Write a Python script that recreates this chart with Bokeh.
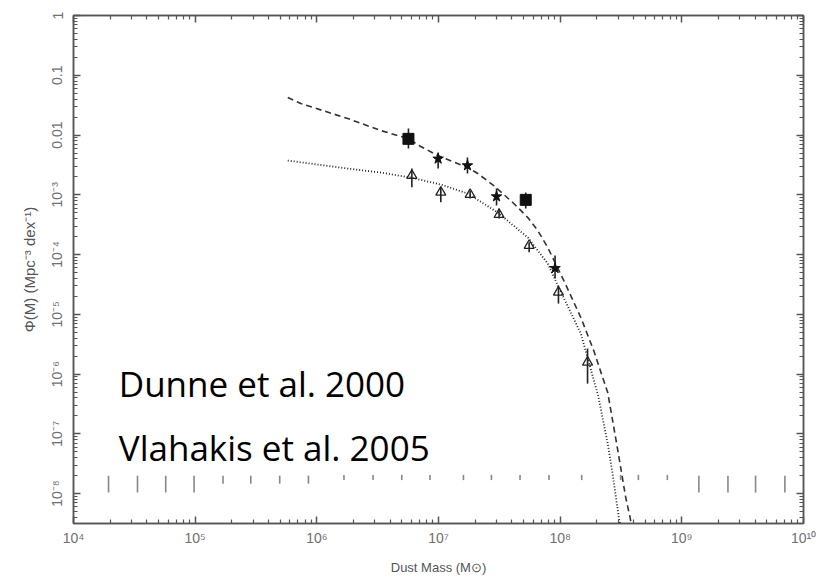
import numpy as np
from bokeh.plotting import figure
from bokeh.models import ColumnDataSource, LogAxis, FixedTicker, Label, BoxAnnotation
from bokeh.embed import file_html
from bokeh.resources import INLINE

# ---------------- data (log10 values) ----------------
# Dunne et al. 2000 (filled symbols)
dunne_logm = [6.753, 6.997, 7.238, 7.477, 7.717, 7.958]
dunne_logphi = [-2.064, -2.398, -2.510, -3.029, -3.085, -4.229]
dunne_lo = [-2.226, -2.561, -2.644, -3.180, -3.230, -4.402]
dunne_hi = [-1.891, -2.293, -2.377, -2.895, -2.962, -4.017]
dunne_marker = ["square", "star", "star", "star", "square", "star"]

# Vlahakis et al. 2005 (open triangles)
vlah_logm = [6.781, 7.019, 7.260, 7.498, 7.745, 7.986, 8.225]
vlah_logphi = [-2.678, -2.957, -2.996, -3.331, -3.849, -4.631, -5.802]
vlah_lo = [-2.873, -3.125, -3.063, -3.397, -3.961, -4.820, -6.159]
vlah_hi = [-2.561, -2.873, -2.929, -3.230, -3.794, -4.519, -5.573]

# dashed fit (Dunne)
dash_logm = [5.761, 5.868, 6.254, 6.526, 6.748, 6.854, 6.994, 7.241, 7.323, 7.454,
             7.619, 7.734, 7.816, 7.898, 8.030, 8.170, 8.276, 8.391, 8.474, 8.539, 8.575, 8.583]
dash_logphi = [-1.372, -1.473, -1.724, -1.925, -2.059, -2.192, -2.343, -2.544, -2.644, -2.845,
               -3.146, -3.381, -3.598, -3.883, -4.435, -5.054, -5.607, -6.310, -7.280, -8.067, -8.402, -8.500]

# dotted fit (Vlahakis)
dot_logm = [5.761, 6.254, 6.526, 6.772, 7.019, 7.241, 7.487, 7.734, 7.898, 7.981,
            8.170, 8.312, 8.391, 8.433, 8.482, 8.493]
dot_logphi = [-2.427, -2.561, -2.628, -2.711, -2.828, -2.979, -3.297, -3.715, -4.151, -4.519,
              -5.322, -6.360, -7.163, -7.699, -8.402, -8.500]

# row of grey marks near 1e-8
mark_logm = [4.288, 4.526, 4.758, 4.991, 5.229, 5.457, 5.695, 5.931, 6.223, 6.462, 6.698, 6.930,
             7.205, 7.435, 7.670, 7.908, 8.177, 8.497, 8.643, 8.881, 9.140, 9.379, 9.606, 9.847]
mark_top = [-7.699] * 8 + [-7.687] * 12 + [-7.699] * 4
mark_bot = [-7.983] * 4 + [-7.833] * 4 + [-7.774] * 12 + [-7.983] * 4

x_tick_values = [1e4, 1e5, 1e6, 1e7, 1e8, 1e9, 1e10]
x_tick_labels = ["10⁴", "10⁵", "10⁶", "10⁷", "10⁸", "10⁹", "10¹⁰"]
y_tick_values = [1e-8, 1e-7, 1e-6, 1e-5, 1e-4, 1e-3, 1e-2, 1e-1, 1.0]
y_tick_labels = ["10⁻⁸", "10⁻⁷", "10⁻⁶", "10⁻⁵", "10⁻⁴", "10⁻³", "0.01", "0.1", "1"]

annotations = ["Dunne et al. 2000", "Vlahakis et al. 2005"]

# ---------------- figure ----------------
p = figure(x_axis_type="log", y_axis_type="log",
           x_range=(1e4, 1e10), y_range=(10 ** -8.5, 1.0),
           width=836, height=587,
           min_border_left=73, min_border_right=33, min_border_top=15, min_border_bottom=64,
           output_backend="svg", toolbar_location=None,
           background_fill_color="white", border_fill_color="white")
p.grid.visible = False
p.outline_line_color = "#555555"
p.outline_line_width = 1.5

x_minor = [k * 10.0 ** e for e in range(4, 10) for k in range(2, 10)]
y_minor = [k * 10.0 ** e for e in range(-9, 0) for k in range(2, 10) if k * 10.0 ** e >= 10 ** -8.5]
xt = FixedTicker(ticks=x_tick_values, minor_ticks=x_minor)
yt = FixedTicker(ticks=y_tick_values, minor_ticks=y_minor)

p.add_layout(LogAxis(), "above")
p.add_layout(LogAxis(), "right")

for ax in p.xaxis:
    ax.ticker = xt
for ax in p.yaxis:
    ax.ticker = yt

for ax in list(p.xaxis) + list(p.yaxis):
    ax.axis_line_color = "#555555"
    ax.axis_line_width = 1.5
    ax.major_tick_line_color = "#555555"
    ax.minor_tick_line_color = "#555555"
    ax.major_tick_line_width = 1.5
    ax.minor_tick_line_width = 1.2
    ax.major_tick_in = 7
    ax.major_tick_out = 0
    ax.minor_tick_in = 4
    ax.minor_tick_out = 0
    ax.major_label_text_color = "#707070"
    ax.major_label_text_font = "Liberation Sans"
    ax.major_label_text_font_size = "14px"

for ax in (p.above[0], p.right[0]):
    ax.major_label_text_alpha = 0
    ax.major_label_text_font_size = "6px"
    ax.major_label_standoff = 0

xa = p.below[0]
xa.major_label_overrides = dict(zip(x_tick_values, x_tick_labels))
xa.major_label_standoff = 6
xa.axis_label = "Dust Mass (M⊙)"
xa.axis_label_text_font = "Liberation Sans"
xa.axis_label_text_font_size = "13px"
xa.axis_label_text_font_style = "normal"
xa.axis_label_text_color = "#555555"
xa.axis_label_standoff = 11

ya = p.left[0]
ya.major_label_overrides = dict(zip(y_tick_values, y_tick_labels))
ya.major_label_orientation = "vertical"
ya.major_label_standoff = 8
ya.axis_label = "Φ(M) (Mpc⁻³ dex⁻¹)"
ya.axis_label_text_font = "Liberation Sans"
ya.axis_label_text_font_size = "15px"
ya.axis_label_text_font_style = "normal"
ya.axis_label_text_color = "#555555"
ya.axis_label_standoff = 9

def pw(a):
    return 10.0 ** np.array(a)

# grey marks
p.segment(x0=pw(mark_logm), y0=pw(mark_bot), x1=pw(mark_logm), y1=pw(mark_top),
          line_color="#888888", line_width=1.6)

# curves
p.line(pw(dash_logm), pw(dash_logphi), line_color="#333333", line_width=1.6, line_dash="6 4")
p.line(pw(dot_logm), pw(dot_logphi), line_color="#222222", line_width=1.8, line_dash="1 2")

# error bars
p.segment(x0=pw(dunne_logm), y0=pw(dunne_lo), x1=pw(dunne_logm), y1=pw(dunne_hi),
          line_color="#222222", line_width=1.6)
p.segment(x0=pw(vlah_logm), y0=pw(vlah_lo), x1=pw(vlah_logm), y1=pw(vlah_hi),
          line_color="#222222", line_width=1.6)

src_d = ColumnDataSource(dict(x=pw(dunne_logm), y=pw(dunne_logphi), m=dunne_marker))
p.scatter("x", "y", marker="m", source=src_d, size=11, fill_color="#111111", line_color="#111111")
p.scatter(pw(vlah_logm), pw(vlah_logphi), marker="triangle", size=10,
          fill_color=None, line_color="#222222", line_width=1.3)

p.add_layout(Label(x=10 ** 4.372, y=10 ** -6.159, text=annotations[0], text_font="Open Sans",
                   text_font_size="35px", text_color="black", text_baseline="alphabetic"))
p.add_layout(Label(x=10 ** 4.372, y=10 ** -7.225, text=annotations[1], text_font="Open Sans",
                   text_font_size="35px", text_color="black", text_baseline="alphabetic"))

# black scan borders on the left and top edges of the picture
p.add_layout(BoxAnnotation(left=0, right=16, top=0, bottom=587,
                           left_units="canvas", right_units="canvas",
                           top_units="canvas", bottom_units="canvas",
                           fill_color="black", fill_alpha=1.0, line_color=None, level="overlay"))
p.add_layout(BoxAnnotation(left=0, right=836, top=0, bottom=3,
                           left_units="canvas", right_units="canvas",
                           top_units="canvas", bottom_units="canvas",
                           fill_color="black", fill_alpha=1.0, line_color=None, level="overlay"))

open("out.html", "w").write(file_html(p, INLINE))
